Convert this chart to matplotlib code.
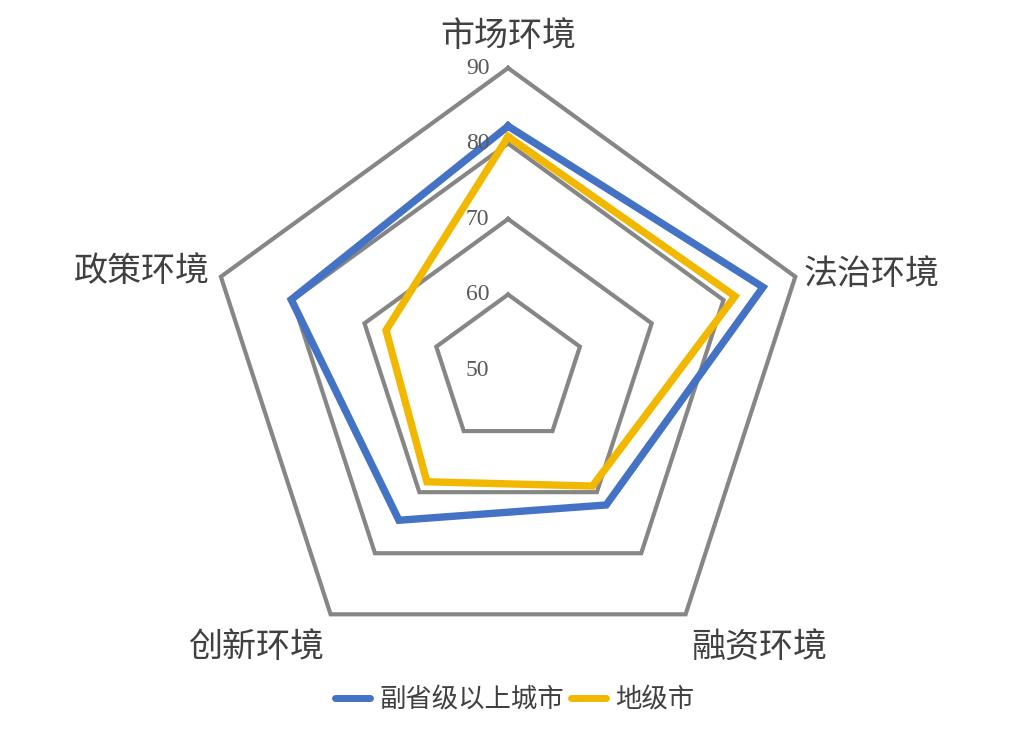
import numpy as np
import matplotlib
matplotlib.use("Agg")
import matplotlib.pyplot as plt
from matplotlib.lines import Line2D

plt.rcParams['font.family'] = ['Liberation Serif', 'Noto Sans CJK SC', 'DejaVu Sans']

categories = ['市场环境', '法治环境', '融资环境', '创新环境', '政策环境']
series_names = ['副省级以上城市', '地级市']
vals_city = [82.3, 85.5, 72.1, 74.6, 80.2]
vals_pref = [80.9, 81.6, 69.0, 68.3, 67.0]
rticks = [50, 60, 70, 80, 90]
colors = ['#4472C4', '#F2B800']

fig = plt.figure(figsize=(10.17, 7.29), dpi=100)
ax = fig.add_axes([0.2026, 0.0782, 0.594, 0.8285], projection='polar')
ax.set_theta_offset(np.pi / 2)
ax.set_theta_direction(-1)
ax.set_ylim(50, 90)
ax.grid(False)
ax.spines['polar'].set_visible(False)
ax.set_xticks([])
ax.set_yticks([])
ax.patch.set_alpha(0)

n = len(categories)
theta = np.linspace(0, 2 * np.pi, n, endpoint=False)
theta_c = np.append(theta, theta[0])

# pentagon grid
for r in rticks[1:]:
    ax.plot(theta_c, [r] * (n + 1), color='#868686', lw=3.0,
            solid_joinstyle='miter', zorder=1, clip_on=False)

for vals, c in zip([vals_city, vals_pref], colors):
    v = np.append(vals, vals[0])
    ax.plot(theta_c, v, color=c, lw=5.3, solid_joinstyle='miter',
            zorder=3, clip_on=False)

# radial tick labels
for r in rticks:
    ax.annotate(str(r), xy=(0, r), xytext=(-22, 0), textcoords='offset points',
                ha='center', va='center', fontsize=17, color='#595959',
                annotation_clip=False)

# category labels
offsets = [(0, 22), (55, 1), (53, -24), (-54, -24), (-57, 3)]
for t, lab, off in zip(theta, categories, offsets):
    ax.annotate(lab, xy=(t, 90), xytext=off, textcoords='offset points',
                ha='center', va='center', fontsize=24.5, color='#404040',
                annotation_clip=False)

handles = [Line2D([], [], color=c, lw=5, solid_capstyle='round') for c in colors]
fig.legend(handles, series_names, loc='center', bbox_to_anchor=(0.506, 0.04),
           ncol=2, frameon=False, fontsize=19, handlelength=1.35,
           handletextpad=0.35, columnspacing=0.25, labelcolor='#404040')

fig.savefig('out.png', dpi=100, facecolor='white')
